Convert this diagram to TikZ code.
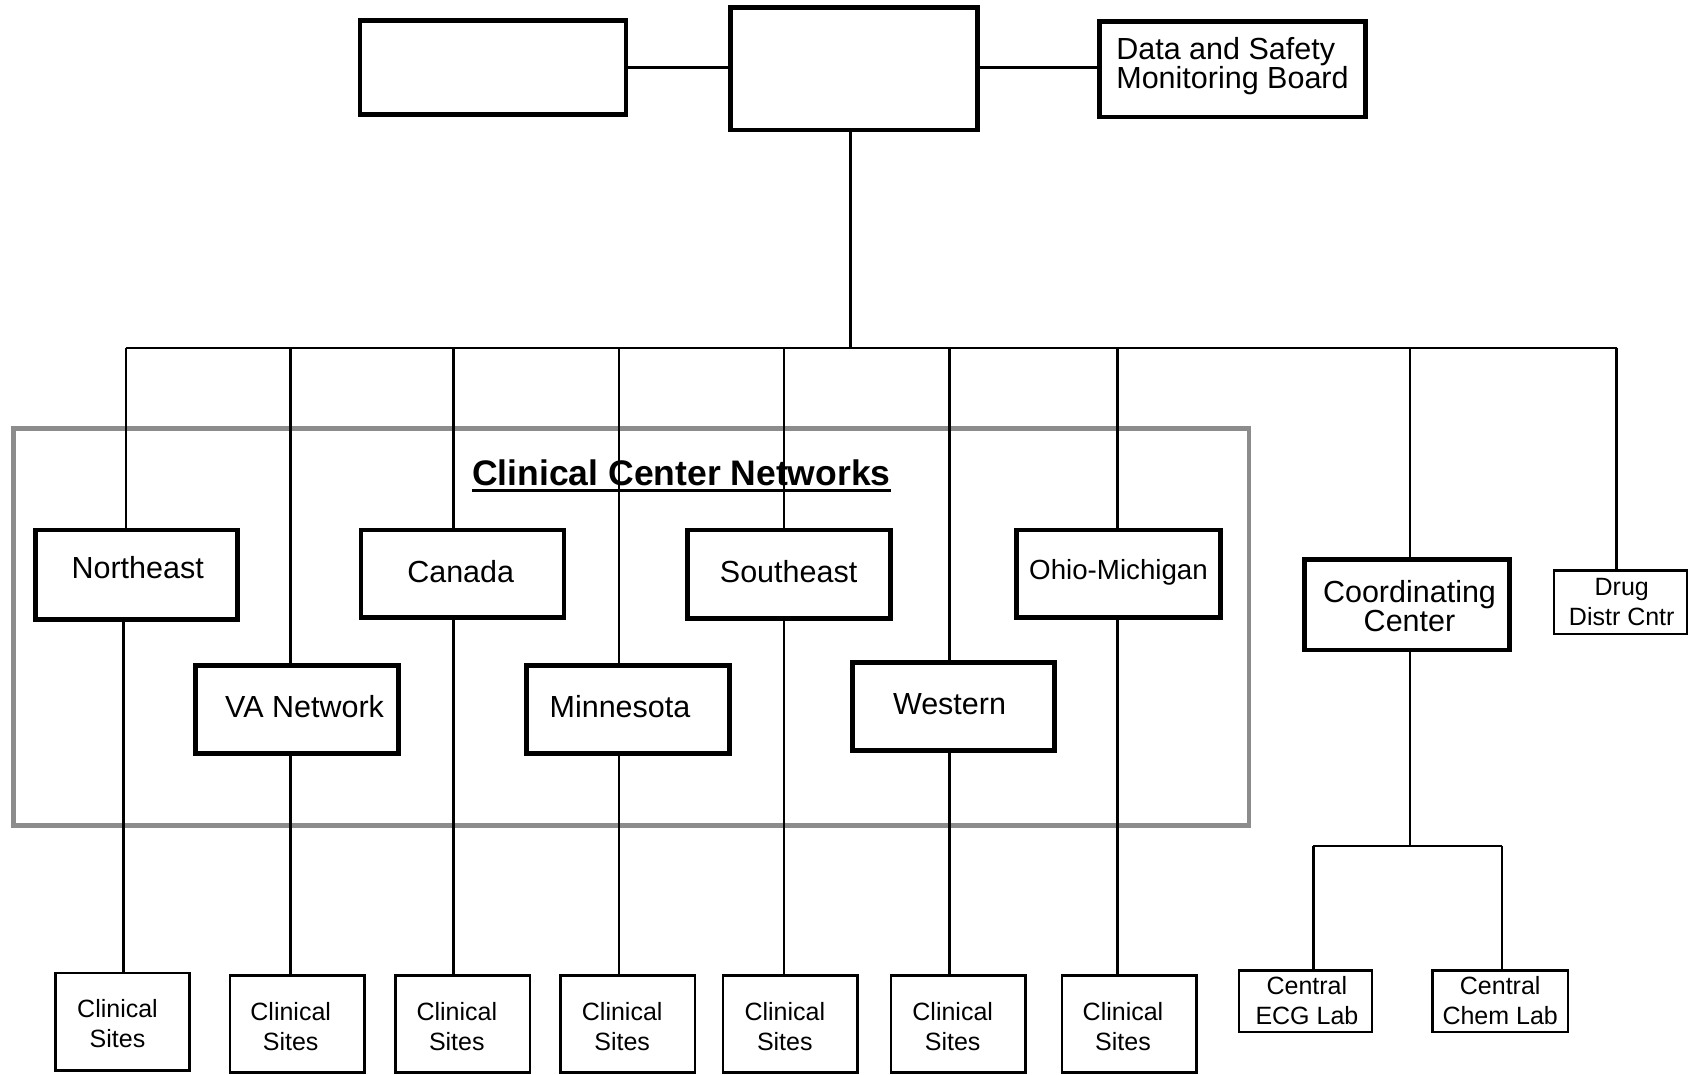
\documentclass[tikz,border=0pt]{standalone}
\usepackage{fontspec}
\setmainfont{Liberation Sans}
\begin{document}
\begin{tikzpicture}[x=1pt,y=-1pt,
  bigbox/.style={draw, line width=4.8pt, inner sep=0pt},
  thinbox/.style={draw, line width=2.5pt, inner sep=0pt},
  netlbl/.style={font=\fontsize{30.5}{29}\selectfont, align=center},
  ohlbl/.style={font=\fontsize{27.7}{29}\selectfont, align=center},
  smalllbl/.style={font=\fontsize{25}{30}\selectfont, align=center},
  conn/.style={line width=2.4pt},
  netframe/.style={draw=black!45, line width=4.8pt}]
\useasboundingbox (0,0) rectangle (1688,1075);

% frame around the clinical center networks
\draw[netframe] (13.4,428.5) rectangle (1249,825.7);
\node[font=\fontsize{35.5}{40}\selectfont\bfseries, anchor=base, inner sep=0pt] (title) at (681.4,485.4)
  {Clinical Center Networks};
\draw[line width=3.2pt] ([yshift=-5.1pt]title.base west) -- ([yshift=-5.1pt]title.base east);

% top row
\node[bigbox, minimum width=266pt, minimum height=93.5pt] (topleft) at (493,67.4) {};
\node[bigbox, minimum width=246.7pt, minimum height=122.2pt] (topmid) at (854.2,69) {};
\node[bigbox, minimum width=266.2pt, minimum height=95.2pt,
  label={[netlbl, align=left, yshift=3.3pt]center:Data and Safety\\Monitoring Board}] (dsmb) at (1232.5,69.5) {};

% network boxes
\node[bigbox, minimum width=201.8pt, minimum height=89.9pt,
  label={[netlbl, xshift=1pt, yshift=7.6pt]center:Northeast}] (ne) at (136.7,574.9) {};
\node[bigbox, minimum width=203pt, minimum height=87.8pt,
  label={[netlbl, xshift=-1.7pt, yshift=2.2pt]center:Canada}] (ca) at (462.4,573.8) {};
\node[bigbox, minimum width=203pt, minimum height=88.8pt,
  label={[netlbl, yshift=2.7pt]center:Southeast}] (se) at (788.6,574.3) {};
\node[bigbox, minimum width=204.2pt, minimum height=87.8pt,
  label={[ohlbl, yshift=1.8pt]center:Ohio-Michigan}] (oh) at (1118.5,573.8) {};
\node[bigbox, minimum width=203pt, minimum height=87.8pt,
  label={[netlbl, xshift=8pt, yshift=3.2pt]center:VA Network}] (va) at (296.6,709.4) {};
\node[bigbox, minimum width=203pt, minimum height=87.8pt,
  label={[netlbl, xshift=-8.2pt, yshift=3.2pt]center:Minnesota}] (mn) at (628.2,709.4) {};
\node[bigbox, minimum width=202pt, minimum height=87.8pt,
  label={[netlbl, xshift=-4.3pt, yshift=2.2pt]center:Western}] (we) at (953.8,706.2) {};

% coordinating center and drug distribution
\node[bigbox, minimum width=204.7pt, minimum height=90.8pt,
  label={[netlbl, xshift=2.7pt, yshift=-1.8pt]center:Coordinating\\Center}] (cc) at (1406.8,604.5) {};
\node[thinbox, minimum width=132.9pt, minimum height=63.3pt,
  label={[smalllbl, xshift=1.4pt, yshift=0.5pt]center:Drug\\Distr Cntr}] (dd) at (1620.35,602.1) {};

% clinical sites
\node[thinbox, minimum width=134pt, minimum height=97.4pt,
  label={[smalllbl, xshift=-5.2pt, yshift=-2pt]center:Clinical\\Sites}] (cs1) at (122.7,1021.7) {};
\node[thinbox, minimum width=134.5pt, minimum height=97pt,
  label={[smalllbl, xshift=-6.5pt, yshift=-2.8pt]center:Clinical\\Sites}] (cs2) at (297.2,1024.2) {};
\node[thinbox, minimum width=134.5pt, minimum height=97pt,
  label={[smalllbl, xshift=-5.7pt, yshift=-2.8pt]center:Clinical\\Sites}] (cs3) at (462.5,1024.2) {};
\node[thinbox, minimum width=134.5pt, minimum height=97pt,
  label={[smalllbl, xshift=-5.4pt, yshift=-2.8pt]center:Clinical\\Sites}] (cs4) at (627.6,1024.2) {};
\node[thinbox, minimum width=134.5pt, minimum height=97pt,
  label={[smalllbl, xshift=-5.4pt, yshift=-2.8pt]center:Clinical\\Sites}] (cs5) at (790.2,1024.2) {};
\node[thinbox, minimum width=134.5pt, minimum height=97pt,
  label={[smalllbl, xshift=-5.4pt, yshift=-2.8pt]center:Clinical\\Sites}] (cs6) at (958.1,1024.2) {};
\node[thinbox, minimum width=134.5pt, minimum height=97pt,
  label={[smalllbl, xshift=-6pt, yshift=-2.8pt]center:Clinical\\Sites}] (cs7) at (1129,1024.2) {};

% central labs
\node[thinbox, minimum width=133.2pt, minimum height=61.6pt,
  label={[smalllbl, xshift=1.4pt, yshift=1pt]center:Central\\ECG Lab}] (ecg) at (1305.5,1001.3) {};
\node[thinbox, minimum width=135.9pt, minimum height=61.6pt,
  label={[smalllbl, yshift=1pt]center:Central\\Chem Lab}] (chem) at (1500.2,1001.3) {};

% bus and junction points
\coordinate (bc) at (850.4,347.7);
\coordinate (b1) at (126,347.7);
\coordinate (b2) at (290.5,347.7);
\coordinate (b3) at (453.5,347.7);
\coordinate (b4) at (619,347.7);
\coordinate (b5) at (783.7,347.7);
\coordinate (b6) at (949.5,347.7);
\coordinate (b7) at (1117.4,347.7);
\coordinate (b8) at (1410,347.7);
\coordinate (b9) at (1616.5,347.7);
\coordinate (d1) at (123.6,800);
\coordinate (lb1) at (1313.3,845.7);
\coordinate (lb2) at (1501.7,845.7);

% top connectors
\draw[conn] (topleft.east) -- (topmid.west |- topleft.east);
\draw[conn] (topmid.east |- topleft.east) -- (dsmb.west |- topleft.east);
\draw[conn] (bc |- topmid.south) -- (bc);
\draw[conn] (b1) -- (b9);

% drops from the bus
\draw[conn] (b1) -- (b1 |- ne.north);
\draw[conn] (b2) -- (b2 |- va.north);
\draw[conn] (b3) -- (b3 |- ca.north);
\draw[conn] (b4) -- (b4 |- mn.north);
\draw[conn] (b5) -- (b5 |- se.north);
\draw[conn] (b6) -- (b6 |- we.north);
\draw[conn] (b7) -- (b7 |- oh.north);
\draw[conn] (b8) -- (b8 |- cc.north);
\draw[conn] (b9) -- (b9 |- dd.north);

% networks to clinical sites
\draw[conn] (d1 |- ne.south) -- (d1 |- cs1.north);
\draw[conn] (b2 |- va.south) -- (b2 |- cs2.north);
\draw[conn] (b3 |- ca.south) -- (b3 |- cs3.north);
\draw[conn] (b4 |- mn.south) -- (b4 |- cs4.north);
\draw[conn] (b5 |- se.south) -- (b5 |- cs5.north);
\draw[conn] (b6 |- we.south) -- (b6 |- cs6.north);
\draw[conn] (b7 |- oh.south) -- (b7 |- cs7.north);

% coordinating center to labs
\draw[conn] (b8 |- cc.south) -- (b8 |- lb1);
\draw[conn] (lb1) -- (lb2);
\draw[conn] (lb1) -- (lb1 |- ecg.north);
\draw[conn] (lb2) -- (lb2 |- chem.north);
\end{tikzpicture}
\end{document}
